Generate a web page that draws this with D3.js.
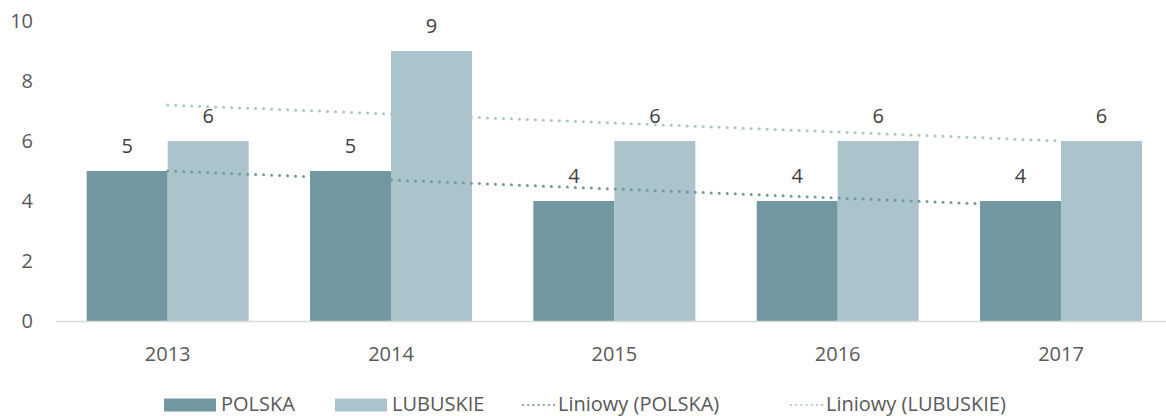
<!DOCTYPE html>
<html>
<head>
<meta charset="utf-8">
<script src="https://cdn.jsdelivr.net/npm/d3@7"></script>
<style>
  body { margin: 0; background: #fff; }
  text { font-family: "Open Sans", sans-serif; }
</style>
</head>
<body>
<script>
const years = ["2013", "2014", "2015", "2016", "2017"];
const polska = [5, 5, 4, 4, 4];
const lubuskie = [6, 9, 6, 6, 6];
const seriesNames = ["POLSKA", "LUBUSKIE"];
const yTicks = [0, 2, 4, 6, 8, 10];

const w = 1166;
const h = 416;
const colors = { POLSKA: "#7397a0", LUBUSKIE: "#abc4cb" };

const svg = d3.select("body").append("svg").attr("width", w).attr("height", h);

const x = d3.scaleBand().domain(years).range([56, 1172.7])
  .paddingInner(0.2746).paddingOuter(0.1373);
const xs = d3.scaleBand().domain(seriesNames).range([0, x.bandwidth()]);
const y = d3.scaleLinear().domain([0, 10]).range([321, 21]);

// y axis labels
svg.selectAll(".ylab").data(yTicks).enter().append("text")
  .attr("x", 33).attr("y", d => y(d)).attr("dy", "0.35em")
  .attr("text-anchor", "end").style("font-size", "20px").style("fill", "#595959")
  .text(d => d);

// bars
const rows = years.map((yr, i) => ({ year: yr, POLSKA: polska[i], LUBUSKIE: lubuskie[i] }));
const groups = svg.selectAll(".grp").data(rows).enter().append("g")
  .attr("transform", d => `translate(${x(d.year)},0)`);

groups.selectAll("rect")
  .data(d => seriesNames.map(k => ({ key: k, value: d[k] })))
  .enter().append("rect")
  .attr("x", d => xs(d.key)).attr("width", xs.bandwidth())
  .attr("y", d => y(d.value)).attr("height", d => y(0) - y(d.value))
  .attr("fill", d => colors[d.key]);

groups.selectAll(".lab")
  .data(d => seriesNames.map(k => ({ key: k, value: d[k] })))
  .enter().append("text")
  .attr("x", d => xs(d.key) + xs.bandwidth() / 2)
  .attr("y", d => y(d.value) - 18)
  .attr("text-anchor", "middle").style("font-size", "20px").style("fill", "#404040")
  .text(d => d.value);

// linear trend (least squares) from first to last category center
function trend(vals) {
  const n = vals.length;
  const xm = (n + 1) / 2;
  const ym = d3.mean(vals);
  let num = 0, den = 0;
  vals.forEach((v, i) => { num += (i + 1 - xm) * (v - ym); den += (i + 1 - xm) ** 2; });
  const b = num / den;
  return [ym + b * (1 - xm), ym + b * (n - xm)];
}
const cx = d => x(d) + x.bandwidth() / 2;
[["POLSKA", polska], ["LUBUSKIE", lubuskie]].forEach(([name, vals]) => {
  const t = trend(vals);
  svg.append("line")
    .attr("x1", cx(years[0])).attr("y1", y(t[0]))
    .attr("x2", cx(years[years.length - 1])).attr("y2", y(t[1]))
    .attr("stroke", colors[name]).attr("stroke-width", 3)
    .attr("stroke-linecap", "round").attr("stroke-dasharray", "0 8");
});

// baseline
svg.append("line").attr("x1", 56).attr("x2", 1172.7)
  .attr("y1", y(0) + 0.5).attr("y2", y(0) + 0.5)
  .attr("stroke", "#d9d9d9").attr("stroke-width", 1.5);

// x labels
svg.selectAll(".xlab").data(years).enter().append("text")
  .attr("x", d => cx(d)).attr("y", 361)
  .attr("text-anchor", "middle").style("font-size", "20px").style("fill", "#595959")
  .text(d => d);

// legend
const legend = [
  { label: "POLSKA", type: "box", color: colors.POLSKA, x: 164 },
  { label: "LUBUSKIE", type: "box", color: colors.LUBUSKIE, x: 335 },
  { label: "Liniowy (POLSKA)", type: "dot", color: colors.POLSKA, x: 522 },
  { label: "Liniowy (LUBUSKIE)", type: "dot", color: colors.LUBUSKIE, x: 790 }
];
const lg = svg.selectAll(".leg").data(legend).enter().append("g")
  .attr("transform", d => `translate(${d.x},0)`);
lg.filter(d => d.type === "box").append("rect")
  .attr("x", 0).attr("y", 398.5).attr("width", 52).attr("height", 13)
  .attr("fill", d => d.color);
lg.filter(d => d.type === "dot").append("line")
  .attr("x1", 1).attr("x2", 33).attr("y1", 405).attr("y2", 405)
  .attr("stroke", d => d.color).attr("stroke-width", 2.2)
  .attr("stroke-linecap", "round").attr("stroke-dasharray", "0 5.2");
lg.append("text")
  .attr("x", d => d.type === "box" ? 57 : 36).attr("y", 410.5)
  .style("font-size", "20px").style("fill", "#595959")
  .text(d => d.label);
</script>
</body>
</html>
